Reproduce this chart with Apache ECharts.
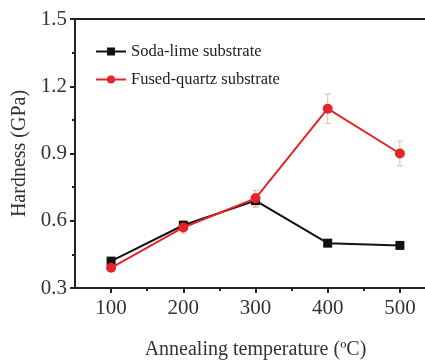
<!DOCTYPE html>
<html><head><meta charset="utf-8">
<script src="https://cdn.jsdelivr.net/npm/echarts@6/dist/echarts.min.js"></script>
<style>html,body{margin:0;padding:0;background:#fff}#c{width:425px;height:360px}</style>
</head><body><div id="c"></div>
<script>
const temps = [100, 200, 300, 400, 500];
const sodaLime = [0.42, 0.58, 0.69, 0.50, 0.49];
const sodaLimeErr = [0.015, 0.02, 0.03, 0.015, 0.015];
const fusedQuartz = [0.39, 0.57, 0.70, 1.10, 0.90];
const fusedQuartzErr = [0.015, 0.025, 0.035, 0.065, 0.055];
const xMajorTicks = [100, 200, 300, 400, 500];
const xMinorTicks = [150, 250, 350, 450];

const FONT = 'Liberation Serif';
const chart = echarts.init(document.getElementById('c'), null, {renderer: 'canvas'});

function errSeries(vals, errs, z) {
  return {
    type: 'custom', z: z, silent: true,
    data: temps.map((t, i) => [t, vals[i] - errs[i], vals[i] + errs[i]]),
    renderItem: function (params, api) {
      const lo = api.coord([api.value(0), api.value(1)]);
      const hi = api.coord([api.value(0), api.value(2)]);
      const w = 3;
      const style = {stroke: '#efb98f', lineWidth: 1};
      return {type: 'group', children: [
        {type: 'line', shape: {x1: lo[0], y1: lo[1], x2: hi[0], y2: hi[1]}, style: style},
        {type: 'line', shape: {x1: lo[0]-w, y1: lo[1], x2: lo[0]+w, y2: lo[1]}, style: style},
        {type: 'line', shape: {x1: hi[0]-w, y1: hi[1], x2: hi[0]+w, y2: hi[1]}, style: style}
      ]};
    }
  };
}

chart.setOption({
  backgroundColor: '#fff',
  animation: false,
  grid: {left: 75, top: 19, bottom: 72, width: 361, outerBoundsMode: 'none', containLabel: false, show: false},
  legend: {
    orient: 'vertical', left: 90, top: 38, itemWidth: 30, itemHeight: 10, itemGap: 11,
    textStyle: {fontFamily: FONT, fontSize: 16.5, color: '#222'},
    data: ['Soda-lime substrate', 'Fused-quartz substrate']
  },
  xAxis: [{
    type: 'value', min: 50, max: 550, interval: 50,
    name: 'Annealing temperature (ºC)', nameLocation: 'middle', nameGap: 52,
    nameTextStyle: {fontFamily: FONT, fontSize: 20, color: '#333'},
    axisLine: {lineStyle: {color: '#222', width: 2}},
    axisTick: {show: true, length: 5, customValues: xMajorTicks, lineStyle: {color: '#222', width: 2}},
    axisLabel: {customValues: xMajorTicks, fontFamily: FONT, fontSize: 21, color: '#333', margin: 10},
    splitLine: {show: false}
  }, {
    type: 'value', min: 50, max: 550, interval: 50, position: 'bottom',
    axisLine: {show: false},
    axisTick: {show: true, length: 3, customValues: xMinorTicks, lineStyle: {color: '#222', width: 2}},
    axisLabel: {show: false}, splitLine: {show: false}
  }, {
    type: 'value', min: 50, max: 550, interval: 50, position: 'top',
    axisLine: {show: true, lineStyle: {color: '#222', width: 2}},
    axisTick: {show: false}, axisLabel: {show: false}, splitLine: {show: false}
  }],
  yAxis: {
    type: 'value', min: 0.3, max: 1.5, interval: 0.3,
    name: 'Hardness (GPa)', nameLocation: 'middle', nameGap: 44,
    nameTextStyle: {fontFamily: FONT, fontSize: 20, color: '#333'},
    axisLine: {show: true, lineStyle: {color: '#222', width: 2}},
    axisTick: {show: true, length: 5, lineStyle: {color: '#222', width: 2}},
    minorTick: {show: true, splitNumber: 2, length: 3, lineStyle: {color: '#222', width: 2}},
    axisLabel: {fontFamily: FONT, fontSize: 21, color: '#333', margin: 8, formatter: v => v.toFixed(1)},
    splitLine: {show: false}
  },
  series: [
    errSeries(sodaLime, sodaLimeErr, 1),
    errSeries(fusedQuartz, fusedQuartzErr, 1),
    {
      name: 'Soda-lime substrate', type: 'line', z: 3,
      data: temps.map((t, i) => [t, sodaLime[i]]),
      symbol: 'rect', symbolSize: 9,
      itemStyle: {color: '#111'}, lineStyle: {color: '#111', width: 2}
    },
    {
      name: 'Fused-quartz substrate', type: 'line', z: 4,
      data: temps.map((t, i) => [t, fusedQuartz[i]]),
      symbol: 'circle', symbolSize: 10,
      itemStyle: {color: '#e3242b'}, lineStyle: {color: '#e3242b', width: 2}
    }
  ]
});
</script></body></html>
